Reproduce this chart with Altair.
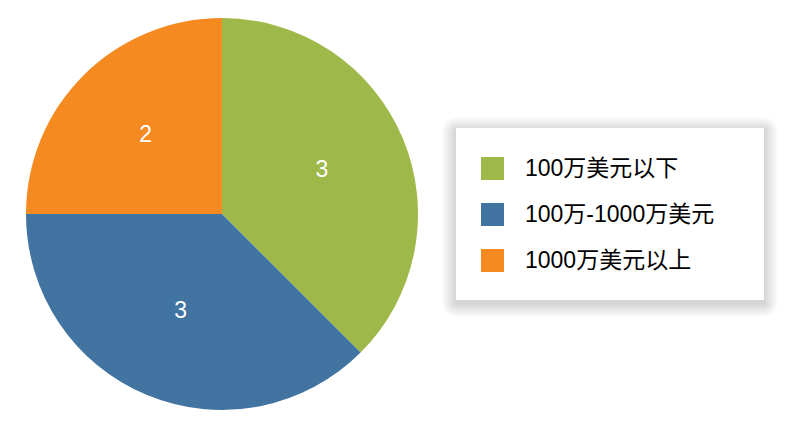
import altair as alt
import pandas as pd

categories = ["100万美元以下", "100万-1000万美元", "1000万美元以上"]
values = [3, 3, 2]
colors = ["#9FB84A", "#4174A1", "#F58A21"]

df = pd.DataFrame({"category": categories, "value": values, "idx": [0, 1, 2]})

FONT = "Liberation Sans, Arial, Noto Sans CJK SC"
CX, CY, R = 214, 206, 196

color_enc = alt.Color(
    "category:N",
    scale=alt.Scale(domain=categories, range=colors),
    sort=categories,
    legend=alt.Legend(
        title=None,
        orient="none",
        legendX=473,
        legendY=149,
        symbolType="square",
        symbolSize=529,
        symbolStrokeWidth=0,
        symbolOpacity=1,
        labelFontSize=23,
        labelFont=FONT,
        labelColor="#000000",
        labelOffset=21,
        rowPadding=22,
        padding=0,
        labelLimit=400,
    ),
)

base = alt.Chart(df).encode(
    theta=alt.Theta("value:Q", stack=True),
    order=alt.Order("idx:Q"),
)

arcs = base.mark_arc(outerRadius=R, stroke=None).encode(
    color=color_enc,
    x=alt.value(CX),
    y=alt.value(CY),
)

labels = base.mark_text(radius=108, dy=-3, fontSize=23, font=FONT, color="white").encode(
    text="value:Q",
    x=alt.value(CX),
    y=alt.value(CY),
)

# legend box with soft shadow
box = pd.DataFrame({"k": [0]})
shadow_layers = []
for i in range(14, 0, -1):
    shadow_layers.append(
        alt.Chart(box).mark_rect(
            fill="#000000", opacity=0.012, cornerRadius=i
        ).encode(
            x=alt.value(448 - i),
            x2=alt.value(756 + i),
            y=alt.value(120 - i + 3),
            y2=alt.value(292 + i + 3),
        )
    )
panel = alt.Chart(box).mark_rect(fill="white").encode(
    x=alt.value(448), x2=alt.value(756), y=alt.value(120), y2=alt.value(292)
)

chart = alt.layer(*shadow_layers, panel, arcs, labels).properties(
    width=783,
    height=416,
    autosize=alt.AutoSizeParams(type="none"),
    padding=0,
).configure_view(stroke=None)

chart.save("out.html", embed_options={"renderer": "svg", "actions": False})
